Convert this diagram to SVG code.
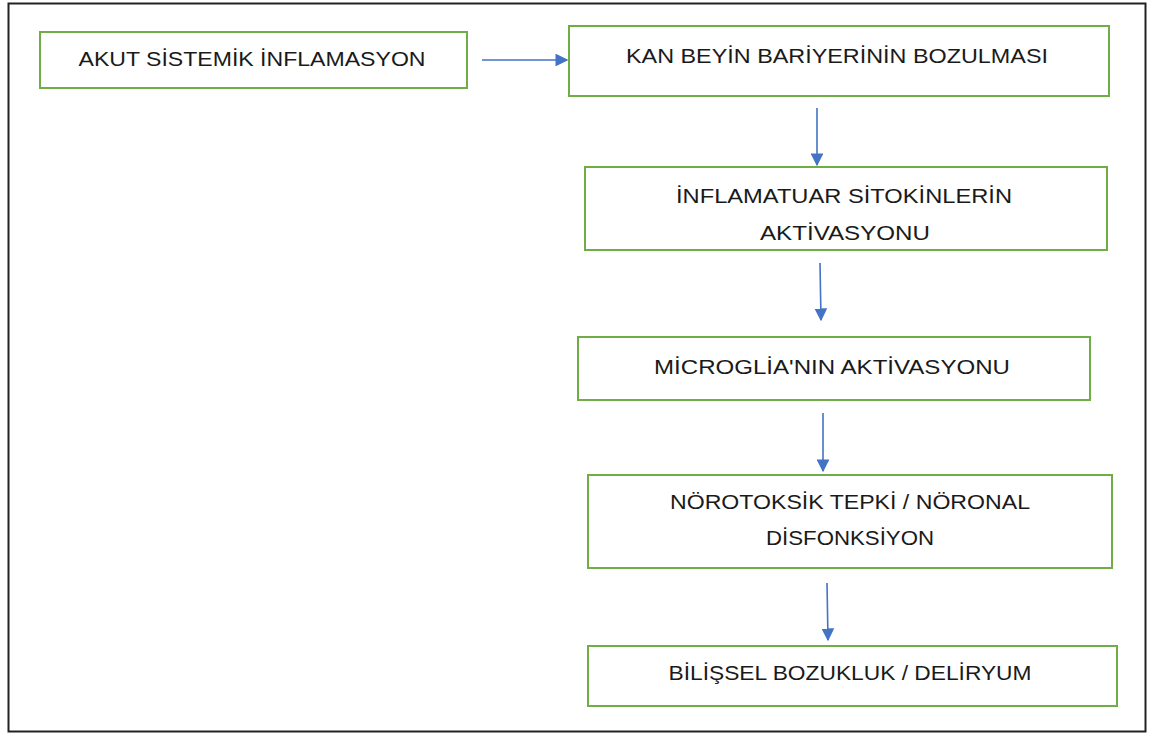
<svg xmlns="http://www.w3.org/2000/svg" width="1151" height="736" viewBox="0 0 1151 736">
<style>
.box{fill:#ffffff;stroke:#70AD47;stroke-width:2}
.t{font-family:"Liberation Sans","DejaVu Sans",sans-serif;font-size:21px;fill:#1a1a1a;text-anchor:middle}
.c{stroke:#4472C4;stroke-width:1.6;fill:none;marker-end:url(#ah)}
</style>
<defs>
<marker id="ah" viewBox="0 0 10 10" refX="9" refY="5" markerWidth="8" markerHeight="8" orient="auto" markerUnits="strokeWidth">
<path d="M0,0 L10,5 L0,10 z" fill="#4472C4"/>
</marker>
</defs>
<rect x="0" y="0" width="1151" height="736" fill="#ffffff"/>
<rect id="frame" x="8.5" y="3.5" width="1137" height="728" fill="none" stroke="#222" stroke-width="2"/>
<g id="connectors">
<line class="c" x1="482" y1="60" x2="567" y2="60"/>
<line class="c" x1="817" y1="108" x2="817" y2="165"/>
<line class="c" x1="820" y1="263" x2="821" y2="320"/>
<line class="c" x1="823" y1="413" x2="823" y2="471"/>
<line class="c" x1="827" y1="583" x2="828" y2="640"/>
</g>
<g id="n1"><rect class="box" x="40" y="32" width="427" height="56"/>
<text class="t" x="252" y="66" textLength="347" lengthAdjust="spacingAndGlyphs">AKUT SİSTEMİK İNFLAMASYON</text></g>
<g id="n2"><rect class="box" x="569" y="26" width="540" height="70"/>
<text class="t" x="837" y="63" textLength="422" lengthAdjust="spacingAndGlyphs">KAN BEYİN BARİYERİNİN BOZULMASI</text></g>
<g id="n3"><rect class="box" x="585" y="167" width="522" height="83"/>
<text class="t" x="844" y="203" textLength="336" lengthAdjust="spacingAndGlyphs">İNFLAMATUAR SİTOKİNLERİN</text>
<text class="t" x="845" y="240" textLength="170" lengthAdjust="spacingAndGlyphs">AKTİVASYONU</text></g>
<g id="n4"><rect class="box" x="578" y="337" width="512" height="63"/>
<text class="t" x="832" y="374" textLength="356" lengthAdjust="spacingAndGlyphs">MİCROGLİA'NIN AKTİVASYONU</text></g>
<g id="n5"><rect class="box" x="588" y="475" width="524" height="93"/>
<text class="t" x="850" y="509" textLength="360" lengthAdjust="spacingAndGlyphs">NÖROTOKSİK TEPKİ / NÖRONAL</text>
<text class="t" x="850" y="545" textLength="168" lengthAdjust="spacingAndGlyphs">DİSFONKSİYON</text></g>
<g id="n6"><rect class="box" x="588" y="646" width="529" height="60"/>
<text class="t" x="850" y="680" textLength="363" lengthAdjust="spacingAndGlyphs">BİLİŞSEL BOZUKLUK / DELİRYUM</text></g>
</svg>
